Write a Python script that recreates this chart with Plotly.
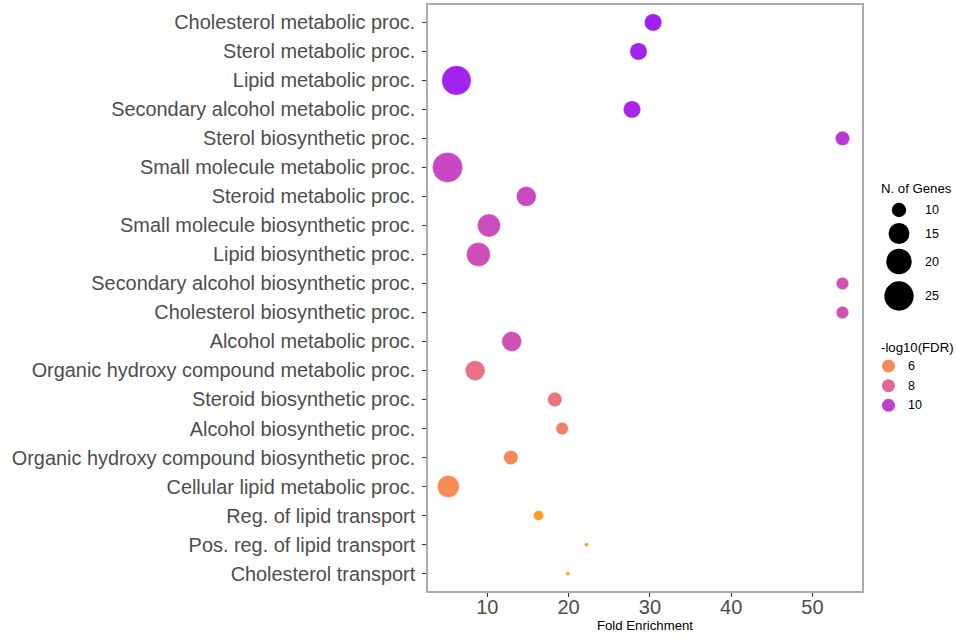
import numpy as np
import plotly.graph_objects as go

# ---------------- data ----------------
terms = [
    "Cholesterol metabolic proc.",
    "Sterol metabolic proc.",
    "Lipid metabolic proc.",
    "Secondary alcohol metabolic proc.",
    "Sterol biosynthetic proc.",
    "Small molecule metabolic proc.",
    "Steroid metabolic proc.",
    "Small molecule biosynthetic proc.",
    "Lipid biosynthetic proc.",
    "Secondary alcohol biosynthetic proc.",
    "Cholesterol biosynthetic proc.",
    "Alcohol metabolic proc.",
    "Organic hydroxy compound metabolic proc.",
    "Steroid biosynthetic proc.",
    "Alcohol biosynthetic proc.",
    "Organic hydroxy compound biosynthetic proc.",
    "Cellular lipid metabolic proc.",
    "Reg. of lipid transport",
    "Pos. reg. of lipid transport",
    "Cholesterol transport",
]
fold_enrichment = [30.4, 28.6, 6.2, 27.8, 53.7, 5.1, 14.8, 10.2, 8.9, 53.7,
                   53.7, 13.0, 8.5, 18.3, 19.2, 12.9, 5.2, 16.3, 22.2, 19.9]
n_genes = [12, 12, 25, 12, 10, 26, 14, 17, 18, 9,
           9, 14, 14, 10, 9, 10, 16, 8, 7, 7]
neg_log10_fdr = [11.4, 11.3, 11.3, 11.1, 10.4, 9.7, 9.6, 9.5, 9.4, 9.1,
                 9.1, 9.2, 7.4, 7.2, 6.5, 6.0, 5.8, 4.8, 4.6, 4.4]

size_breaks = [10, 15, 20, 25]
color_breaks = [6, 8, 10]

# ---------------- scales ----------------
D_MIN, D_MAX = 4.0, 30.0
g_min, g_max = min(n_genes), max(n_genes)


def size_px(n):
    n = np.asarray(n, dtype=float)
    t = np.clip((n - g_min) / (g_max - g_min), 0, 1)
    return D_MIN + (D_MAX - D_MIN) * np.sqrt(t)


def _lin(c):
    c = c / 255.0
    return np.where(c <= 0.04045, c / 12.92, ((c + 0.055) / 1.055) ** 2.4)


def _gam(c):
    c = np.clip(c, 0, 1)
    return np.where(c <= 0.0031308, 12.92 * c, 1.055 * c ** (1 / 2.4) - 0.055) * 255


M = np.array([[0.4124, 0.3576, 0.1805], [0.2126, 0.7152, 0.0722], [0.0193, 0.1192, 0.9505]])
WHITE = np.array([0.95047, 1.0, 1.08883])


def hex2lab(h):
    rgb = np.array([int(h[i:i + 2], 16) for i in (1, 3, 5)], dtype=float)
    xyz = M @ _lin(rgb) / WHITE
    d = 6 / 29
    f = np.where(xyz > d ** 3, np.cbrt(xyz), xyz / (3 * d * d) + 4 / 29)
    return np.array([116 * f[1] - 16, 500 * (f[0] - f[1]), 200 * (f[1] - f[2])])


def lab2rgb(lab):
    L, a, b = lab
    fy = (L + 16) / 116
    fx = fy + a / 500
    fz = fy - b / 200
    d = 6 / 29
    f = np.array([fx, fy, fz])
    xyz = np.where(f > d, f ** 3, 3 * d * d * (f - 4 / 29)) * WHITE
    rgb = _gam(np.linalg.inv(M) @ xyz)
    return "rgb(%d,%d,%d)" % tuple(np.round(rgb).astype(int))


LOW, HIGH = hex2lab("#FFA500"), hex2lab("#A020F0")
colorscale = [[t, lab2rgb(LOW + (HIGH - LOW) * t)] for t in np.linspace(0, 1, 21)]
c_min, c_max = min(neg_log10_fdr), max(neg_log10_fdr)


def color_of(v):
    t = (v - c_min) / (c_max - c_min)
    return lab2rgb(LOW + (HIGH - LOW) * t)


FONT = "Liberation Sans, Arial, Helvetica, sans-serif"

fig = go.Figure()
fig.add_trace(go.Scatter(
    x=fold_enrichment, y=terms, mode="markers",
    marker=dict(size=size_px(n_genes), color=neg_log10_fdr, colorscale=colorscale,
                cmin=c_min, cmax=c_max, showscale=False, opacity=1,
                line=dict(width=0.6, color="rgba(255,255,255,0.5)")),
    showlegend=False, hoverinfo="x+y",
))

# ---------------- legend (drawn on a pixel-like helper axis) ----------------
size_key_x = 899
size_key_y = [210, 233.5, 261.5, 296]
fig.add_trace(go.Scatter(
    x=[size_key_x] * len(size_breaks), y=size_key_y, xaxis="x2", yaxis="y2", mode="markers",
    marker=dict(size=size_px(size_breaks), color="black", opacity=1, line=dict(width=0)),
    showlegend=False, hoverinfo="skip",
))
color_key_x = 888.5
color_key_y = [366, 385.7, 405.3]
fig.add_trace(go.Scatter(
    x=[color_key_x] * len(color_breaks), y=color_key_y, xaxis="x2", yaxis="y2", mode="markers",
    marker=dict(size=13, color=[color_of(v) for v in color_breaks], opacity=1, line=dict(width=0)),
    showlegend=False, hoverinfo="skip",
))

TITLE_FONT = dict(size=13.2, color="black", family=FONT)
LABEL_FONT = dict(size=12.5, color="black", family=FONT)
ann = [dict(x=879, y=188, xref="x2", yref="y2", text="N. of Genes", showarrow=False,
            xanchor="left", yanchor="middle", font=TITLE_FONT),
       dict(x=879, y=347, xref="x2", yref="y2", text="-log10(FDR)", showarrow=False,
            xanchor="left", yanchor="middle", font=TITLE_FONT)]
for v, yy in zip(size_breaks, size_key_y):
    ann.append(dict(x=923, y=yy, xref="x2", yref="y2", text=str(v), showarrow=False,
                    xanchor="left", yanchor="middle", font=LABEL_FONT))
for v, yy in zip(color_breaks, color_key_y):
    ann.append(dict(x=905.5, y=yy, xref="x2", yref="y2", text=str(v), showarrow=False,
                    xanchor="left", yanchor="middle", font=LABEL_FONT))

L_MARGIN, T_MARGIN, B_MARGIN = 428, 5, 45
W, H = 956, 636
plot_w = W - L_MARGIN
x_dom_end = (862 - L_MARGIN) / plot_w
x2_start = 0.83

fig.update_layout(
    width=W, height=H,
    margin=dict(l=L_MARGIN, r=0, t=T_MARGIN, b=B_MARGIN, pad=0),
    paper_bgcolor="white", plot_bgcolor="white",
    font=dict(family=FONT),
    annotations=ann,
    xaxis=dict(domain=[0, x_dom_end], range=[2.7, 56.1], tickvals=[10, 20, 30, 40, 50],
               showgrid=False, zeroline=False, showline=True, mirror=True,
               linecolor="#ABABAB", linewidth=1.5, ticks="outside", ticklen=4,
               tickcolor="#333333", tickwidth=1, ticklabelstandoff=-7,
               tickfont=dict(size=20, color="#4D4D4D", family=FONT),
               title=dict(text="Fold Enrichment", font=TITLE_FONT, standoff=1)),
    yaxis=dict(domain=[0, 1], type="category", categoryorder="array", categoryarray=terms,
               range=[len(terms) - 0.4, -0.6], showgrid=False, zeroline=False,
               showline=True, mirror=True, linecolor="#ABABAB", linewidth=1.5,
               ticks="outside", ticklen=4, tickcolor="#333333", tickwidth=1,
               ticklabelstandoff=3,
               tickfont=dict(size=19.9, color="#4D4D4D", family=FONT)),
    xaxis2=dict(domain=[x2_start, 1], range=[L_MARGIN + x2_start * plot_w, W], visible=False,
                anchor="y2"),
    yaxis2=dict(domain=[0, 1], range=[H - B_MARGIN, T_MARGIN], visible=False, anchor="x2"),
)

fig.write_html("out.html")
